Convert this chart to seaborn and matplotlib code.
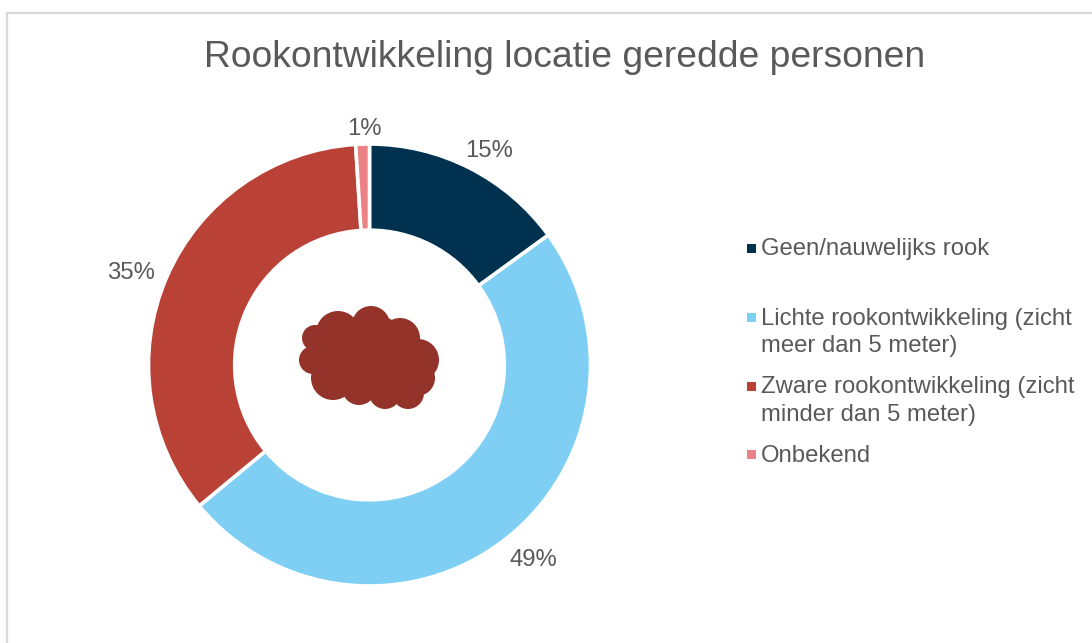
import matplotlib
matplotlib.use('Agg')
import matplotlib.pyplot as plt
from matplotlib.patches import Circle, Rectangle
import seaborn as sns

sns.set_theme(style='white')
plt.rcParams['font.family'] = ['Liberation Sans', 'DejaVu Sans']

TITLE = 'Rookontwikkeling locatie geredde personen'
categories = ['Geen/nauwelijks rook',
              'Lichte rookontwikkeling (zicht\nmeer dan 5 meter)',
              'Zware rookontwikkeling (zicht\nminder dan 5 meter)',
              'Onbekend']
values = [15, 49, 35, 1]
colors = sns.color_palette(['#003250', '#7FCFF5', '#B94135', '#EB8285'])

W, H = 1092, 643
TEXT = '#595959'

fig = plt.figure(figsize=(W / 100, H / 100), dpi=100, facecolor='white')

# overlay in pixel coordinates for frame, title, cloud and legend
bg = fig.add_axes([0, 0, 1, 1])
bg.set_xlim(0, W)
bg.set_ylim(H, 0)
bg.axis('off')
bg.plot([6.5, 6.5, W], [H, 12.5, 12.5], color='#D9D9D9', lw=1.6, solid_joinstyle='miter')
bg.text(564.5, 57.5, TITLE, fontsize=26.8, color=TEXT, ha='center', va='center')

# donut
cx, cy, r = 369.5, 365, 221
size = 2 * r * 1.25
ax = fig.add_axes([(cx - size / 2) / W, 1 - (cy + size / 2) / H, size / W, size / H])
ax.patch.set_alpha(0)
wedges, _ = ax.pie(values, colors=colors, startangle=90, counterclock=False, radius=1,
                   wedgeprops=dict(width=0.39, edgecolor='white', linewidth=2.6))
ax.set_xlim(-1.25, 1.25)
ax.set_ylim(-1.25, 1.25)

# percent labels sit just outside the ring
label_pos = [(489.5, 151), (533, 560), (131.5, 273), (364, 129)]
for v, (x, y) in zip(values, label_pos):
    bg.text(x, y, f'{v}%', fontsize=17.2, color=TEXT, ha='center', va='center')

# smoke cloud in the hole
cloud = [(315, 338, 13), (338, 333, 22), (371, 325, 19), (400, 338, 20), (418, 360, 21),
         (313, 360, 14), (333, 378, 22), (359, 388, 17), (385, 393, 16), (408, 393, 16),
         (417, 378, 18), (370, 357, 43), (338, 355, 24)]
ax2 = fig.add_axes([0, 0, 1, 1])
ax2.set_xlim(0, W)
ax2.set_ylim(H, 0)
ax2.axis('off')
for x, y, rad in cloud:
    ax2.add_patch(Circle((x, y), rad, color='#93332A', lw=0))

# legend
legend_y = [248, 317, 386, 454]
for name, col, y in zip(categories, colors, legend_y):
    ax2.add_patch(Rectangle((746.5, y - 4.5), 9, 9, color=col, lw=0))
    ax2.text(761, y - 9.5, name, fontsize=17.2, color=TEXT, ha='left', va='top', linespacing=1.3)

fig.savefig('out.png', dpi=100)
